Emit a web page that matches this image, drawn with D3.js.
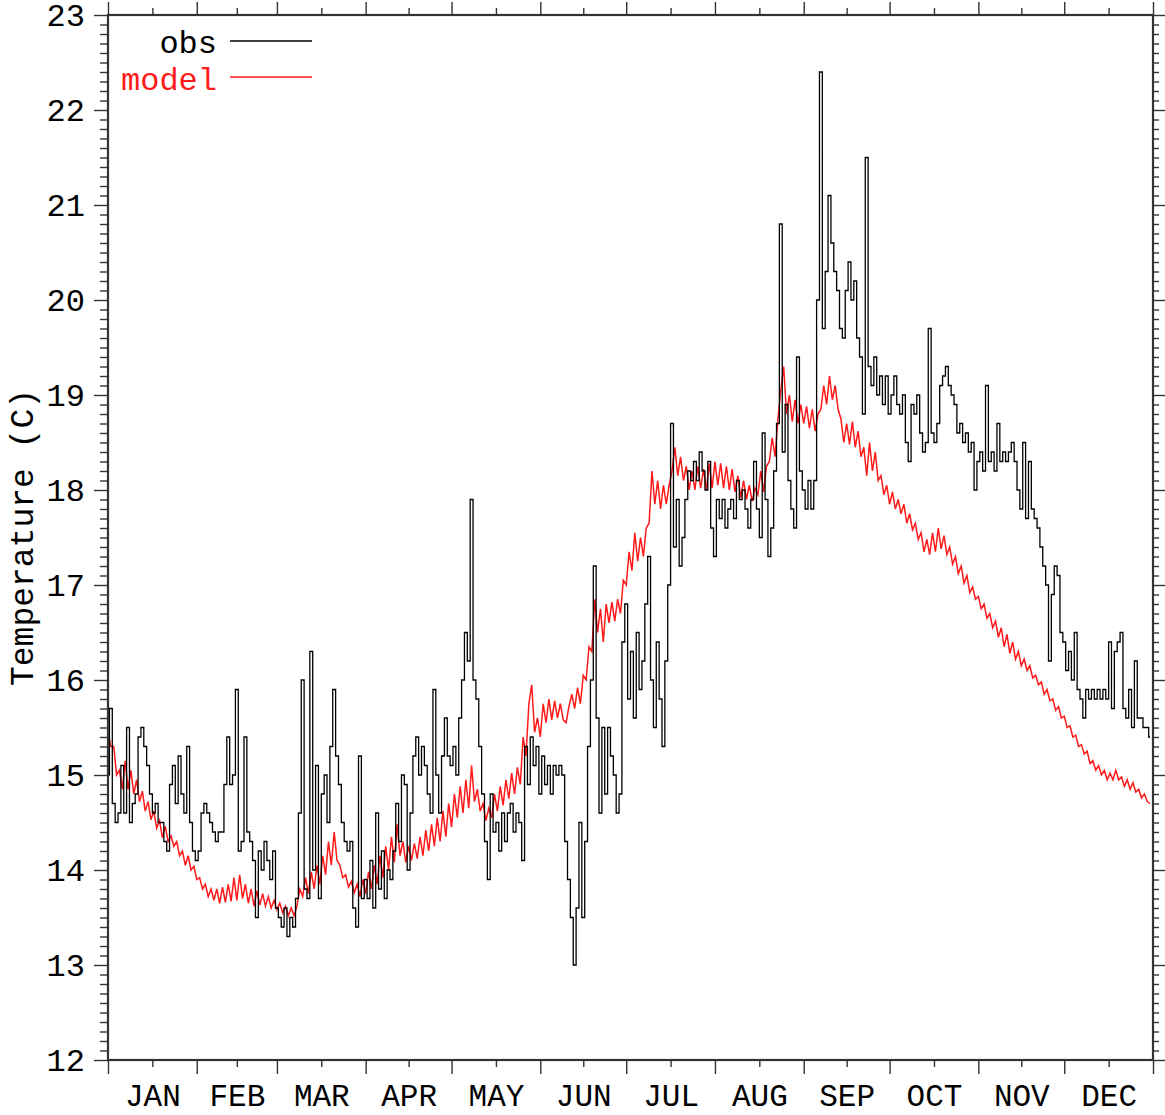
<!DOCTYPE html>
<html>
<head>
<meta charset="utf-8">
<script src="https://cdn.jsdelivr.net/npm/d3@7"></script>
<style>
  body { margin: 0; background: #fff; }
  text { font-family: 'Liberation Mono', 'DejaVu Sans Mono', monospace; fill: #000; }
</style>
</head>
<body>
<div id="container"></div>
<script>
const months = ['JAN', 'FEB', 'MAR', 'APR', 'MAY', 'JUN', 'JUL', 'AUG', 'SEP', 'OCT', 'NOV', 'DEC']
const monthDays = [31, 28, 31, 30, 31, 30, 31, 31, 30, 31, 30, 31]
const yTicks = [12, 13, 14, 15, 16, 17, 18, 19, 20, 21, 22, 23]

// daily observed temperature, one row per month
const obs = [
  [15.0, 15.7, 14.7, 14.5, 14.6, 15.1, 14.6, 15.5, 14.5, 14.7, 14.8, 15.4, 15.5, 15.3, 15.1, 14.8, 14.6, 14.7, 14.5, 14.5, 14.3, 14.2, 14.9, 15.1, 14.7, 15.2, 14.8, 14.6, 15.3, 14.5, 14.2],
  [14.1, 14.2, 14.6, 14.7, 14.6, 14.5, 14.4, 14.3, 14.4, 14.4, 14.9, 15.4, 14.9, 15.0, 15.9, 14.2, 14.3, 15.4, 14.4, 14.3, 14.1, 13.5, 14.2, 14.0, 14.3, 14.1, 13.9, 14.2],
  [13.6, 13.5, 13.4, 13.6, 13.3, 13.5, 13.4, 13.7, 14.6, 16.0, 13.8, 13.7, 16.3, 14.0, 15.1, 13.7, 14.8, 15.0, 14.5, 15.3, 15.9, 15.2, 14.9, 14.5, 14.3, 14.2, 14.3, 13.6, 13.4, 15.2, 13.7],
  [13.9, 13.7, 14.1, 13.6, 14.6, 13.8, 14.2, 13.7, 14.0, 13.9, 14.2, 14.7, 14.3, 15.0, 14.9, 14.0, 14.6, 15.2, 15.4, 15.0, 15.3, 15.1, 14.8, 14.6, 15.9, 15.0, 14.6, 15.2, 15.6, 15.2],
  [15.1, 15.3, 15.0, 15.6, 16.0, 16.5, 16.2, 17.9, 16.0, 15.8, 15.3, 14.8, 14.3, 13.9, 14.8, 14.4, 14.5, 14.2, 14.6, 14.3, 14.6, 14.7, 14.4, 14.6, 14.5, 14.1, 15.3, 14.9, 15.4, 15.1, 15.3],
  [14.8, 15.2, 14.9, 15.1, 14.8, 15.1, 15.0, 15.1, 15.0, 14.3, 13.9, 13.5, 13.0, 13.6, 14.5, 13.5, 14.3, 15.3, 16.0, 17.2, 15.6, 14.6, 15.5, 14.8, 15.5, 15.2, 15.0, 14.6, 14.8, 16.4],
  [16.8, 15.8, 16.3, 15.6, 16.5, 15.9, 16.2, 16.8, 17.3, 16.0, 15.5, 16.4, 15.8, 15.3, 16.2, 17.0, 18.7, 17.4, 17.9, 17.2, 17.5, 17.9, 18.2, 18.1, 18.3, 18.1, 18.4, 18.2, 18.0, 18.3, 17.6],
  [17.3, 17.9, 17.7, 17.9, 17.6, 17.8, 17.9, 17.7, 18.1, 17.9, 18.0, 17.8, 17.6, 17.9, 18.3, 17.8, 17.5, 18.6, 17.9, 17.3, 17.6, 18.2, 18.7, 20.8, 18.4, 18.9, 18.1, 17.8, 17.6, 19.4, 18.2],
  [18.0, 17.8, 18.1, 17.8, 18.1, 20.0, 22.4, 19.7, 20.3, 21.1, 20.6, 20.3, 20.1, 19.7, 19.6, 20.1, 20.4, 20.0, 20.2, 19.6, 19.4, 18.8, 21.5, 19.3, 19.1, 19.4, 19.0, 19.2, 18.9, 19.2],
  [18.8, 19.0, 19.2, 18.9, 18.8, 19.0, 18.5, 18.3, 18.9, 18.8, 19.0, 18.6, 18.4, 18.5, 19.7, 18.6, 18.5, 18.7, 19.1, 19.2, 19.3, 19.1, 19.0, 18.9, 18.6, 18.7, 18.5, 18.6, 18.4, 18.5, 18.0],
  [18.3, 18.4, 18.2, 19.1, 18.3, 18.4, 18.2, 18.7, 18.3, 18.4, 18.3, 18.4, 18.5, 18.3, 18.0, 17.8, 18.5, 17.7, 18.3, 17.8, 17.7, 17.6, 17.4, 17.2, 17.0, 16.2, 16.9, 17.2, 17.1, 16.5],
  [16.4, 16.1, 16.3, 16.0, 16.5, 15.9, 15.8, 15.6, 15.9, 15.8, 15.9, 15.8, 15.9, 15.8, 15.9, 15.8, 16.4, 15.7, 16.3, 16.4, 16.5, 15.7, 15.6, 15.9, 15.5, 16.2, 15.6, 15.6, 15.5, 15.5, 15.4]
]

// daily model temperature, one row per month
const model = [
  [15.45, 15.30, 15.30, 15.00, 15.05, 14.85, 15.15, 14.85, 15.05, 14.80, 14.95, 14.72, 14.83, 14.62, 14.72, 14.53, 14.62, 14.44, 14.52, 14.34, 14.46, 14.30, 14.36, 14.25, 14.30, 14.15, 14.20, 14.05, 14.15, 14.00, 14.04],
  [13.90, 13.92, 13.80, 13.85, 13.72, 13.80, 13.68, 13.80, 13.65, 13.82, 13.66, 13.85, 13.67, 13.92, 13.68, 13.95, 13.70, 13.85, 13.65, 13.80, 13.62, 13.78, 13.63, 13.75, 13.62, 13.72, 13.60, 13.68],
  [13.58, 13.65, 13.55, 13.62, 13.52, 13.60, 13.52, 13.62, 13.80, 13.72, 13.92, 13.75, 13.98, 13.80, 14.05, 13.85, 14.15, 13.95, 14.30, 14.05, 14.40, 14.10, 14.05, 13.92, 13.95, 13.82, 13.88, 13.76, 13.85, 13.72, 13.90],
  [13.75, 13.98, 13.80, 14.05, 13.85, 14.15, 13.92, 14.25, 14.00, 14.35, 14.08, 14.48, 14.15, 14.30, 14.08, 14.25, 14.10, 14.28, 14.12, 14.35, 14.15, 14.42, 14.20, 14.48, 14.25, 14.55, 14.30, 14.62, 14.35, 14.70],
  [14.45, 14.80, 14.55, 14.88, 14.60, 14.95, 14.65, 15.10, 14.72, 14.85, 14.62, 14.70, 14.52, 14.65, 14.55, 14.80, 14.62, 14.88, 14.68, 14.95, 14.75, 15.02, 14.80, 15.08, 14.90, 15.40, 15.20, 15.75, 15.95, 15.45, 15.60],
  [15.40, 15.75, 15.55, 15.80, 15.58, 15.78, 15.60, 15.75, 15.58, 15.55, 15.72, 15.85, 15.70, 15.92, 15.75, 16.05, 16.00, 16.35, 16.30, 16.85, 16.50, 16.75, 16.40, 16.80, 16.60, 16.82, 16.62, 16.85, 16.70, 17.05],
  [17.00, 17.35, 17.15, 17.55, 17.25, 17.50, 17.30, 17.60, 17.65, 18.20, 17.85, 18.10, 17.80, 18.05, 17.85, 18.05, 18.20, 18.45, 18.15, 18.35, 18.10, 18.25, 18.00, 18.20, 18.00, 18.25, 18.02, 18.22, 18.00, 18.28, 18.02],
  [18.30, 18.05, 18.28, 18.02, 18.25, 18.00, 18.22, 17.98, 18.15, 17.92, 18.10, 17.90, 18.05, 17.88, 18.02, 17.95, 18.20, 17.98, 18.25, 18.30, 18.55, 18.35, 18.75, 19.05, 19.30, 18.80, 19.00, 18.72, 18.95, 18.70, 18.90],
  [18.70, 18.88, 18.65, 18.85, 18.62, 18.80, 18.85, 19.10, 18.90, 19.20, 18.95, 19.10, 18.85, 18.75, 18.50, 18.70, 18.48, 18.72, 18.45, 18.62, 18.35, 18.45, 18.15, 18.50, 18.20, 18.40, 18.10, 18.15, 17.95, 18.05],
  [17.85, 17.98, 17.80, 17.90, 17.75, 17.85, 17.65, 17.75, 17.58, 17.65, 17.48, 17.55, 17.35, 17.48, 17.32, 17.55, 17.35, 17.60, 17.38, 17.52, 17.32, 17.40, 17.22, 17.30, 17.12, 17.20, 17.02, 17.10, 16.92, 16.98, 16.85],
  [16.88, 16.75, 16.80, 16.65, 16.70, 16.55, 16.62, 16.45, 16.55, 16.35, 16.48, 16.28, 16.40, 16.22, 16.30, 16.15, 16.22, 16.10, 16.15, 16.02, 16.05, 15.95, 15.98, 15.85, 15.90, 15.78, 15.80, 15.68, 15.72, 15.60],
  [15.62, 15.50, 15.52, 15.40, 15.42, 15.30, 15.32, 15.22, 15.25, 15.12, 15.15, 15.05, 15.10, 15.00, 15.05, 14.95, 15.02, 14.95, 15.05, 14.95, 14.98, 14.88, 14.95, 14.85, 14.92, 14.82, 14.85, 14.76, 14.80, 14.72, 14.70]
]

const w = 1165
const h = 1115
const margin = { left: 108, right: 12, top: 15, bottom: 55 }

const monthStart = Array.from(d3.cumsum([0].concat(monthDays.slice(0, -1))))
const monthMid = monthStart.map((s, i) => s + monthDays[i] / 2)
const yearDays = d3.sum(monthDays)

// flatten month rows into {day, value}
const toPoints = rows => rows.flatMap((vals, m) => vals.map((v, i) => ({ day: monthStart[m] + i, value: v })))
const obsPts = toPoints(obs)
const modelPts = toPoints(model)

//SCALES
const x = d3.scaleLinear()
  .domain([0, yearDays])
  .range([margin.left, w - margin.right])

const y = d3.scaleLinear()
  .domain([12, 23])
  .range([h - margin.bottom, margin.top])

const yMinor = d3.range(120, 231).map(v => v / 10).filter(v => !yTicks.includes(v))
const xMajor = monthStart.concat([yearDays])

const svg = d3.select('#container')
  .append('svg')
  .attr('width', w)
  .attr('height', h)

const axisColor = '#333'

const styleAxis = g => {
  g.select('.domain').remove()
  g.selectAll('.tick line').attr('stroke', axisColor).attr('stroke-width', 1.4)
  g.selectAll('text').style('font-size', '32px').attr('fill', '#000')
}

//X AXES
svg.append('g')
  .attr('transform', `translate(0,${y(12)})`)
  .call(d3.axisBottom(x).tickValues(xMajor).tickSize(14).tickFormat(''))
  .call(styleAxis)

svg.append('g')
  .attr('transform', `translate(0,${y(12)})`)
  .call(d3.axisBottom(x).tickValues(monthMid).tickSize(7).tickFormat((d, i) => months[i]))
  .call(styleAxis)
  .call(g => g.selectAll('text').style('font-size', '31px').attr('dy', null).attr('y', 46))

svg.append('g')
  .attr('transform', `translate(0,${y(23)})`)
  .call(d3.axisTop(x).tickValues(xMajor).tickSize(13).tickFormat(''))
  .call(styleAxis)

svg.append('g')
  .attr('transform', `translate(0,${y(23)})`)
  .call(d3.axisTop(x).tickValues(monthMid).tickSize(7).tickFormat(''))
  .call(styleAxis)

//Y AXES
svg.append('g')
  .attr('transform', `translate(${x(0)},0)`)
  .call(d3.axisLeft(y).tickValues(yTicks).tickSize(14).tickPadding(9).tickFormat(d3.format('d')))
  .call(styleAxis)

svg.append('g')
  .attr('transform', `translate(${x(0)},0)`)
  .call(d3.axisLeft(y).tickValues(yMinor).tickSize(8).tickFormat(''))
  .call(styleAxis)

svg.append('g')
  .attr('transform', `translate(${x(yearDays)},0)`)
  .call(d3.axisRight(y).tickValues(yTicks).tickSize(13).tickFormat(''))
  .call(styleAxis)

svg.append('g')
  .attr('transform', `translate(${x(yearDays)},0)`)
  .call(d3.axisRight(y).tickValues(yMinor).tickSize(6).tickFormat(''))
  .call(styleAxis)

//Y LABEL
svg.append('text')
  .attr('transform', `translate(33,${(y(12) + y(23)) / 2}) rotate(-90)`)
  .attr('text-anchor', 'middle')
  .style('font-size', '33px')
  .text('Temperature (C)')

//LINES
const obsLine = d3.line()
  .x(d => x(d.day))
  .y(d => y(d.value))
  .curve(d3.curveStep)

const modelLine = d3.line()
  .x(d => x(d.day))
  .y(d => y(d.value))

svg.append('path')
  .datum(modelPts)
  .attr('fill', 'none')
  .attr('stroke', '#ff1a1a')
  .attr('stroke-width', 1.5)
  .attr('d', modelLine)

svg.append('path')
  .datum(obsPts)
  .attr('fill', 'none')
  .attr('stroke', '#000')
  .attr('stroke-width', 1.3)
  .attr('d', obsLine)

//FRAME
svg.append('rect')
  .attr('x', x(0))
  .attr('y', y(23))
  .attr('width', x(yearDays) - x(0))
  .attr('height', y(12) - y(23))
  .attr('fill', 'none')
  .attr('stroke', axisColor)
  .attr('stroke-width', 2.2)

//LEGEND
const legend = [
  { name: 'obs', color: '#000', ty: 53, ly: 41 },
  { name: 'model', color: '#ff1a1a', ty: 90, ly: 77 }
]

const lg = svg.append('g')

lg.selectAll('text.leg')
  .data(legend)
  .enter()
  .append('text')
  .attr('class', 'leg')
  .attr('x', 217)
  .attr('y', d => d.ty)
  .attr('text-anchor', 'end')
  .style('font-size', '32px')
  .style('fill', d => d.color)
  .text(d => d.name)

lg.selectAll('line')
  .data(legend)
  .enter()
  .append('line')
  .attr('x1', 230)
  .attr('x2', 312)
  .attr('y1', d => d.ly)
  .attr('y2', d => d.ly)
  .attr('stroke', d => d.color)
  .attr('stroke-width', 1.5)
</script>
</body>
</html>
